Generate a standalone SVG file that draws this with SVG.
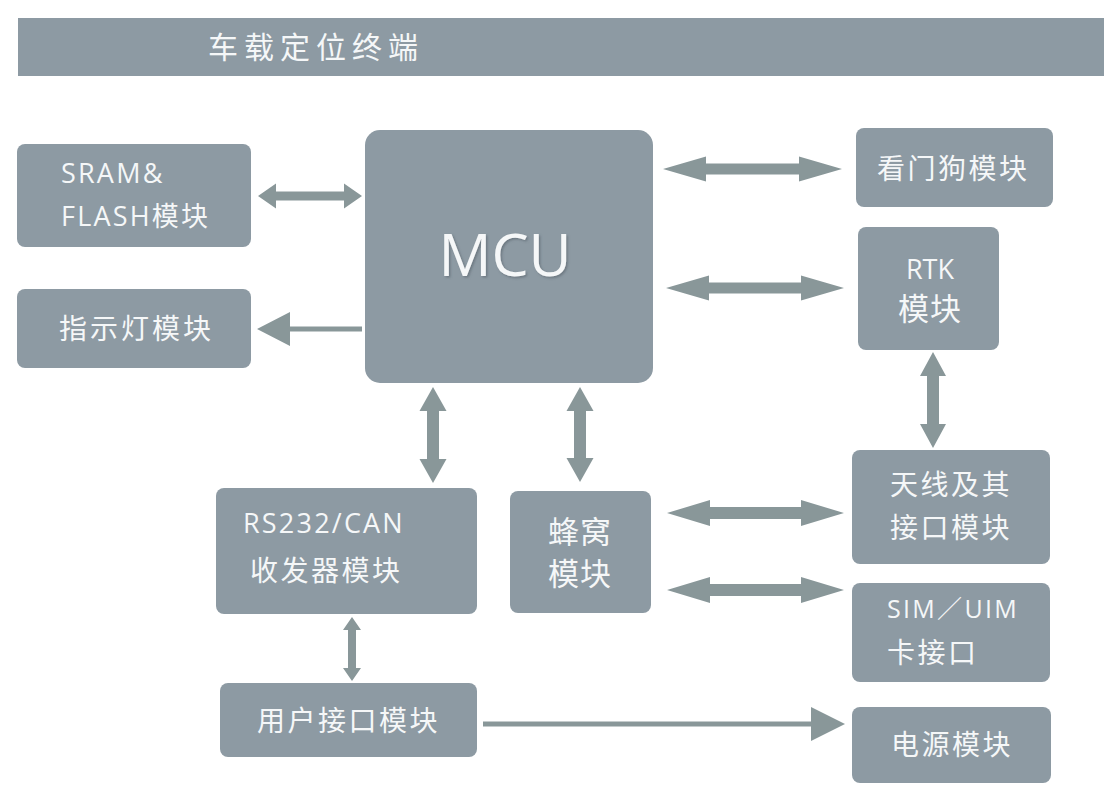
<svg xmlns="http://www.w3.org/2000/svg" width="1104" height="790" viewBox="0 0 1104 790">
<style>
.box{fill:#8d9aa3}
.arr{fill:#899799}
.t{fill:#f5f7f8;font-family:"Open Sans","Noto Sans CJK SC",sans-serif;font-size:28px;letter-spacing:2.5px}
.lat{font-size:27px;letter-spacing:2.2px}
</style>
<defs>
<filter id="sh" x="-10%" y="-10%" width="130%" height="130%"><feDropShadow dx="1.5" dy="1.5" stdDeviation="1" flood-color="#55606a" flood-opacity="0.6"/></filter>
</defs>
<rect width="1104" height="790" fill="#ffffff"/>
<g id="header">
<rect class="box" x="18" y="18" width="1086" height="58"/>
<text class="t" x="208" y="58" style="font-size:30px;letter-spacing:6px">车载定位终端</text>
</g>
<g id="sram">
<rect class="box" x="17" y="144" width="234" height="103" rx="8"/>
<text class="t lat" x="61" y="183">SRAM&amp;</text>
<text class="t lat" x="61" y="226">FLASH模块</text>
</g>
<g id="indicator">
<rect class="box" x="17" y="289" width="234" height="79" rx="8"/>
<text class="t" x="59" y="339" style="letter-spacing:3px">指示灯模块</text>
</g>
<g id="mcu">
<rect class="box" x="365" y="130" width="288" height="253" rx="15"/>
<text class="t" x="505" y="276" text-anchor="middle" filter="url(#sh)" style="font-size:59px;letter-spacing:0">MCU</text>
</g>
<g id="watchdog">
<rect class="box" x="856" y="128" width="197" height="79" rx="8"/>
<text class="t" x="877" y="179">看门狗模块</text>
</g>
<g id="rtk">
<rect class="box" x="858" y="227" width="141" height="123" rx="8"/>
<text class="t" x="930" y="279" text-anchor="middle" style="font-size:27px;letter-spacing:0">RTK</text>
<text class="t" x="930" y="320" text-anchor="middle" style="font-size:31px;letter-spacing:1px">模块</text>
</g>
<g id="rs232">
<rect class="box" x="216" y="488" width="261" height="126" rx="8"/>
<text class="t" x="243" y="533" style="font-size:27px;letter-spacing:2.2px">RS232/CAN</text>
<text class="t" x="250" y="581">收发器模块</text>
</g>
<g id="cellular">
<rect class="box" x="510" y="491" width="141" height="122" rx="8"/>
<text class="t" x="580" y="543" text-anchor="middle" style="font-size:31px;letter-spacing:1px">蜂窝</text>
<text class="t" x="580" y="585" text-anchor="middle" style="font-size:31px;letter-spacing:1px">模块</text>
</g>
<g id="antenna">
<rect class="box" x="852" y="450" width="198" height="114" rx="8"/>
<text class="t" x="890" y="495">天线及其</text>
<text class="t" x="890" y="538">接口模块</text>
</g>
<g id="sim">
<rect class="box" x="852" y="583" width="198" height="99" rx="8"/>
<text class="t" x="887" y="618" style="font-size:25px;letter-spacing:2.3px">SIM／UIM</text>
<text class="t" x="887" y="663">卡接口</text>
</g>
<g id="userif">
<rect class="box" x="220" y="683" width="257" height="74" rx="8"/>
<text class="t" x="257" y="731">用户接口模块</text>
</g>
<g id="power">
<rect class="box" x="852" y="707" width="199" height="76" rx="8"/>
<text class="t" x="891" y="755">电源模块</text>
</g>
<g id="connectors">
<polygon class="arr" points="258,196 276,183.5 276,191.5 344,191.5 344,183.5 362,196 344,208.5 344,200.5 276,200.5 276,208.5"/>
<polygon class="arr" points="257,329 290,312 290,326.5 362,326.5 362,331.5 290,331.5 290,346"/>
<polygon class="arr" points="663,169 706,156.5 706,163.5 799,163.5 799,156.5 842,169 799,181.5 799,174.5 706,174.5 706,181.5"/>
<polygon class="arr" points="666,288 709,275.5 709,282.5 801,282.5 801,275.5 844,288 801,300.5 801,293.5 709,293.5 709,300.5"/>
<polygon class="arr" points="667,513 710,500 710,507 801,507 801,500 844,513 801,526 801,519 710,519 710,526"/>
<polygon class="arr" points="667,590 710,577 710,584 801,584 801,577 844,590 801,603 801,596 710,596 710,603"/>
<polygon class="arr" points="433,387 446.5,411 439,411 439,459 446.5,459 433,483 419.5,459 427,459 427,411 419.5,411"/>
<polygon class="arr" points="580,387 593.5,411 586,411 586,458 593.5,458 580,482 566.5,458 574,458 574,411 566.5,411"/>
<polygon class="arr" points="933,352 946,376 939,376 939,424 946,424 933,448 920,424 927,424 927,376 920,376"/>
<polygon class="arr" points="352,617 361,630 356,630 356,668 361,668 352,681 343,668 348,668 348,630 343,630"/>
<polygon class="arr" points="845,724 811,707 811,721.5 483,721.5 483,726.5 811,726.5 811,741"/>
</g>
</svg>
